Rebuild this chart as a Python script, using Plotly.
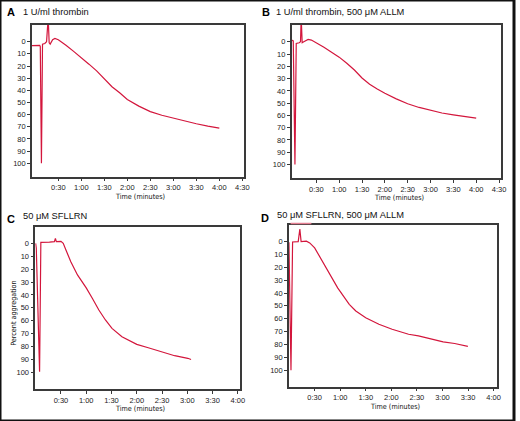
import plotly.graph_objects as go

# panel titles
letters = ["A", "B", "C", "D"]
titles = ["1 U/ml thrombin", "1 U/ml thrombin, 500 \u03bcM ALLM",
          "50 \u03bcM SFLLRN", "50 \u03bcM SFLLRN, 500 \u03bcM ALLM"]

# time in seconds, percent aggregation
t_a = [-4.4, 5.8, 6.5, 8.0, 9.4, 12.4, 14.7, 16.8, 18.1, 19.4, 22.6, 25.6, 30.0,
       36.0, 40.0, 50.0, 60.0, 70.0, 80.0, 90.0, 100.0, 110.0, 120.0, 135.0,
       150.0, 165.0, 180.0, 195.0, 210.0, 225.0, 240.0]
v_a = [3.3, 3.0, 4.0, 100.0, 2.0, 1.5, 0.0, -20.0, 1.0, 2.0, -1.6, -2.6, -1.6,
       0.8, 3.0, 8.0, 13.0, 18.5, 24.0, 30.5, 37.0, 42.0, 47.5, 53.0,
       57.5, 60.5, 63.0, 65.5, 67.5, 69.5, 71.0]

t_b = [-2.5, -0.3, 1.9, 3.6, 7.5, 9.2, 10.1, 11.4, 13.5, 19.2, 23.5, 30.0,
       40.0, 50.0, 60.0, 70.0, 80.0, 90.0, 100.0, 110.0, 120.0, 135.0, 150.0,
       165.0, 180.0, 195.0, 210.0, 225.0, 240.0]
v_b = [-1.4, -0.8, 100.0, 1.4, 0.8, 0.0, -20.0, 0.8, 0.0, -1.9, -1.4, 0.8,
       4.5, 8.5, 12.5, 17.5, 23.0, 29.5, 34.5, 38.5, 42.0, 46.5, 50.5,
       53.5, 56.0, 58.0, 59.5, 61.0, 62.2]

t_c = [-0.1, 0.7, 4.6, 6.1, 16.3, 22.2, 23.4, 24.5, 30.0, 32.7, 35.9, 41.7,
       49.6, 60.0, 67.2, 75.0, 82.8, 90.6, 102.4, 114.1, 120.0, 133.7, 149.3,
       165.0, 180.6, 184.5]
v_c = [0.0, 3.9, 99.5, -0.8, -1.0, -1.3, -3.9, -1.3, -1.6, 0.0, 5.2, 14.2,
       24.5, 34.5, 42.6, 51.7, 59.4, 65.9, 72.4, 76.2, 78.3, 80.9, 84.0,
       87.1, 89.1, 90.0]

t_d = [-0.2, 2.2, 4.1, 10.7, 12.6, 14.1, 20.3, 24.2, 30.0, 39.7, 47.4, 57.0,
       70.6, 78.3, 89.9, 105.4, 120.9, 140.2, 151.8, 171.1, 180.8, 194.3,
       209.8]
v_d = [0.5, 100.0, 0.3, 0.0, -9.8, 0.0, -0.3, 1.0, 4.9, 16.5, 25.6, 36.0,
       48.8, 54.0, 59.2, 64.3, 68.2, 72.1, 73.4, 76.5, 78.0, 79.3, 81.5]

times = [t_a, t_b, t_c, t_d]
values = [v_a, v_b, v_c, v_d]

y_ticks = list(range(0, 101, 10))
x_ticks_ab = [30, 60, 90, 120, 150, 180, 210, 240, 270]
x_labels_ab = ["0:30", "1:00", "1:30", "2:00", "2:30", "3:00", "3:30", "4:00", "4:30"]
x_ticks_cd = x_ticks_ab[:-1]
x_labels_cd = x_labels_ab[:-1]

W, H = 520, 421
# plot boxes in pixels: left, right, top, bottom
boxes = [(32.3, 246.7, 25.0, 176.7), (295.0, 506.7, 25.0, 178.0),
         (35.7, 243.3, 226.7, 389.0), (292.3, 502.3, 225.0, 386.7)]
x_ranges = [[-4.4, 272], [-2.5, 272.4], [-0.5, 243.2], [-0.2, 243.4]]
y_ranges = [[111, -13.7], [111, -13.7], [112.9, -12.9], [112.9, -12.9]]

red = "#d3163c"
axis_col = "#3a3a3a"
tick_font = dict(family="Liberation Sans, Arial, sans-serif", size=7.5, color="#222")
narrow = "DejaVu Sans Condensed, Liberation Sans Narrow, Arial Narrow, sans-serif"

fig = go.Figure()
annotations = []
layout = {}
for i in range(4):
    n = "" if i == 0 else str(i + 1)
    l, r, t, b = boxes[i]
    fig.add_trace(go.Scatter(
        x=times[i], y=values[i], mode="lines",
        line=dict(color=red, width=1.2),
        xaxis="x" + n, yaxis="y" + n, showlegend=False))
    xt = x_ticks_ab if i < 2 else x_ticks_cd
    xl = x_labels_ab if i < 2 else x_labels_cd
    layout["xaxis" + n] = dict(
        domain=[l / W, r / W], anchor="y" + n, range=x_ranges[i],
        tickvals=xt, ticktext=xl, ticks="outside", ticklen=3, tickwidth=1,
        tickcolor=axis_col, showline=True, linecolor=axis_col, linewidth=1.5,
        mirror=True, showgrid=False, zeroline=False, tickfont=tick_font)
    layout["yaxis" + n] = dict(
        domain=[1 - b / H, 1 - t / H], anchor="x" + n, range=y_ranges[i],
        tickvals=y_ticks, ticks="outside", ticklen=3, tickwidth=1,
        tickcolor=axis_col, showline=True, linecolor=axis_col, linewidth=1.5,
        mirror=True, showgrid=False, zeroline=False, tickfont=tick_font)
    # time label
    annotations.append(dict(
        text="Time (minutes)", xref="paper", yref="paper",
        x=(l + r) / 2 / W + 0.005, y=1 - (b + 19.5) / H, showarrow=False,
        xanchor="center", yanchor="middle",
        font=dict(family=narrow, size=7.2, color="#111")))

# panel letters and titles
letter_pos = [(5, 12), (263, 12), (5, 219), (262, 218)]
title_pos = [(21, 12), (277, 12), (21, 216), (278, 215)]
for i in range(4):
    annotations.append(dict(
        text="<b>" + letters[i] + "</b>", xref="paper", yref="paper",
        x=letter_pos[i][0] / W, y=1 - letter_pos[i][1] / H, showarrow=False,
        xanchor="left", yanchor="middle",
        font=dict(family="Liberation Sans, Arial, sans-serif", size=11, color="#000")))
    annotations.append(dict(
        text=titles[i], xref="paper", yref="paper",
        x=title_pos[i][0] / W, y=1 - title_pos[i][1] / H, showarrow=False,
        xanchor="left", yanchor="middle",
        font=dict(family="Liberation Sans, Arial, sans-serif", size=9.3, color="#111")))

annotations.append(dict(
    text="Percent aggregation", xref="paper", yref="paper",
    x=13 / W, y=1 - 313 / H, showarrow=False, textangle=-90,
    xanchor="center", yanchor="middle",
    font=dict(family=narrow, size=7.2, color="#111")))

fig.update_layout(
    width=W, height=H, autosize=False,
    margin=dict(l=0, r=0, t=0, b=0),
    paper_bgcolor="white", plot_bgcolor="white",
    annotations=annotations,
    shapes=[
        dict(type="rect", xref="paper", yref="paper", x0=0, y0=0, x1=1, y1=1,
             line=dict(color="#111", width=3)),
        dict(type="line", xref="paper", yref="paper",
             x0=294 / W, x1=315 / W, y0=1 - 223.5 / H, y1=1 - 223.5 / H,
             line=dict(color="#e57f92", width=1.5)),
    ],
    **layout)

fig.write_html("out.html", config={"displayModeBar": False},
               post_script="document.body.style.margin='0';"
                           "document.body.style.overflow='hidden';")
